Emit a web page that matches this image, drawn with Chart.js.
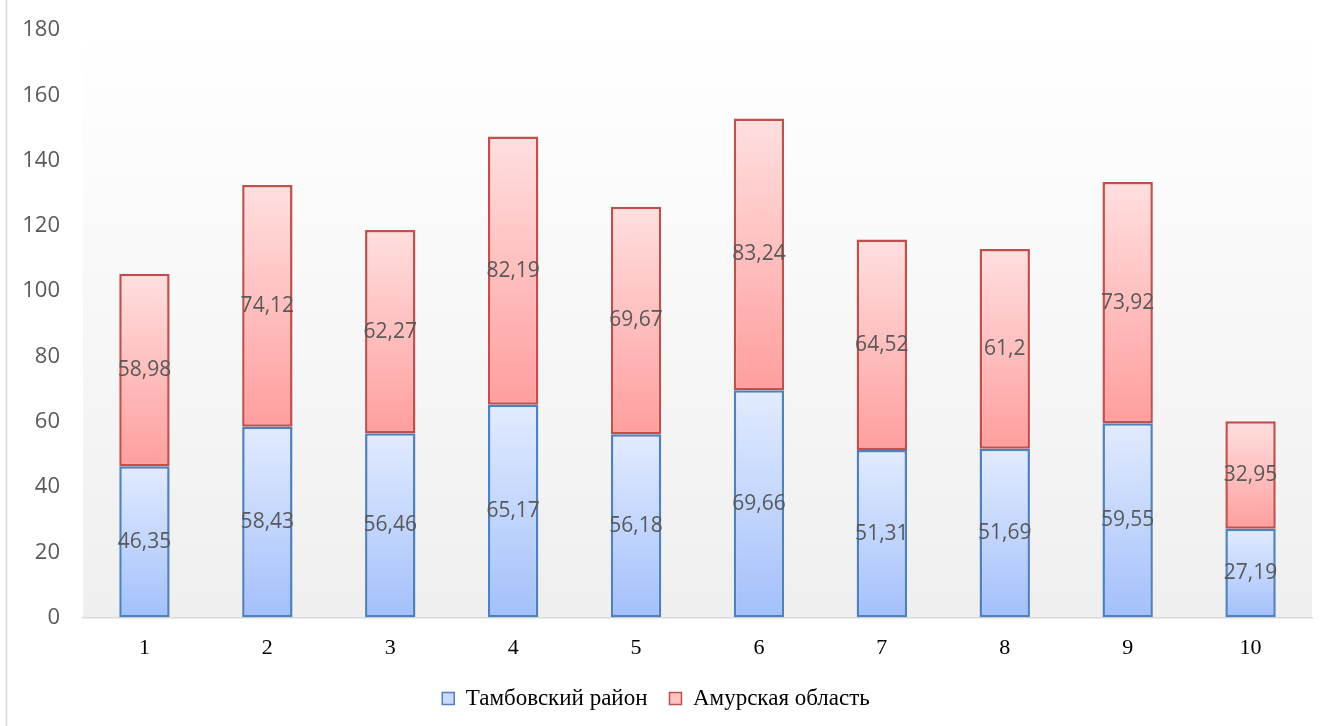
<!DOCTYPE html>
<html>
<head>
<meta charset="utf-8">
<script src="https://cdn.jsdelivr.net/npm/chart.js@4"></script>
<style>
  html, body { margin: 0; padding: 0; background: #fff; }
  #wrap { width: 1331px; height: 726px; }
</style>
</head>
<body>
<div id="wrap"><canvas id="chart" width="1331" height="726"></canvas></div>
<script>
// данные
const categories = ["1", "2", "3", "4", "5", "6", "7", "8", "9", "10"];
const tambov = [46.35, 58.43, 56.46, 65.17, 56.18, 69.66, 51.31, 51.69, 59.55, 27.19];
const amur = [58.98, 74.12, 62.27, 82.19, 69.67, 83.24, 64.52, 61.2, 73.92, 32.95];
const seriesNames = ["Тамбовский район", "Амурская область"];
const yTicks = [0, 20, 40, 60, 80, 100, 120, 140, 160, 180];

// расстояние между элементами легенды и поправки её высоты/положения
const legendGap = 22;
const legendFitCut = 15;
const legendDrawShift = 13;

// градиент для каждого сегмента столбика
function barGradient(ctx, top, bottom, fallback) {
    if (ctx.type !== 'data') return fallback;
    const chart = ctx.chart;
    const y = chart.scales.y;
    if (!y || !chart.chartArea) return fallback;
    const i = ctx.dataIndex;
    const start = ctx.datasetIndex === 0 ? 0 : tambov[i];
    const end = start + (ctx.datasetIndex === 0 ? tambov[i] : amur[i]);
    const y0 = y.getPixelForValue(end);
    const y1 = y.getPixelForValue(start);
    if (!isFinite(y0) || !isFinite(y1) || y0 === y1) return fallback;
    const g = chart.ctx.createLinearGradient(0, y0, 0, y1);
    g.addColorStop(0, top);
    g.addColorStop(1, bottom);
    return g;
}

// фон области построения + рамка слева
const backgroundPlugin = {
    id: 'bg',
    beforeDraw(chart) {
        const { ctx, chartArea: a } = chart;
        ctx.save();
        ctx.fillStyle = '#ffffff';
        ctx.fillRect(0, 0, chart.width, chart.height);
        const g = ctx.createLinearGradient(0, a.top, 0, a.bottom);
        g.addColorStop(0, '#ffffff');
        g.addColorStop(1, '#efefef');
        ctx.fillStyle = g;
        ctx.fillRect(a.left, a.top, a.right - a.left, a.bottom - a.top);
        ctx.strokeStyle = '#d9d9d9';
        ctx.lineWidth = 1.5;
        ctx.beginPath();
        ctx.moveTo(6.5, 0);
        ctx.lineTo(6.5, chart.height);
        ctx.stroke();
        ctx.restore();
    }
};

// легенда: широкий промежуток между элементами, но без лишней высоты
const legendFitPlugin = {
    id: 'legendFit',
    beforeLayout(chart) {
        const l = chart.legend;
        if (l && !l._fitPatched) {
            const fit = l.fit;
            l.fit = function () {
                fit.call(this);
                this.height -= legendFitCut;
            };
            l._fitPatched = true;
        }
    },
    afterLayout(chart) {
        const l = chart.legend;
        if (l) {
            l.top -= legendDrawShift;
        }
    }
};

// подписи значений
const labelsPlugin = {
    id: 'valueLabels',
    afterDatasetsDraw(chart) {
        const ctx = chart.ctx;
        ctx.save();
        ctx.font = '21px "Open Sans"';
        ctx.fillStyle = '#595959';
        ctx.textAlign = 'center';
        ctx.textBaseline = 'middle';
        chart.data.datasets.forEach((ds, di) => {
            const meta = chart.getDatasetMeta(di);
            meta.data.forEach((bar, i) => {
                const text = String(ds.data[i]).replace('.', ',');
                ctx.fillText(text, bar.x, (bar.y + bar.base) / 2);
            });
        });
        ctx.restore();
    }
};

const legendFill = ['#c9dafd', '#ffc4c4'];
const legendStroke = ['#4f81bd', '#c0504d'];

new Chart(document.getElementById('chart'), {
    type: 'bar',
    data: {
        labels: categories,
        datasets: [
            {
                label: seriesNames[0],
                data: tambov,
                backgroundColor: (c) => barGradient(c, '#e2ebfe', '#a3c0fb', '#c9dafd'),
                borderColor: '#4f81bd',
                borderWidth: 2.5,
                borderSkipped: false,
                barPercentage: 0.41,
                categoryPercentage: 1
            },
            {
                label: seriesNames[1],
                data: amur,
                backgroundColor: (c) => barGradient(c, '#ffdfdf', '#ff9e9e', '#ffc4c4'),
                borderColor: '#c0504d',
                borderWidth: 2.5,
                borderSkipped: false,
                barPercentage: 0.41,
                categoryPercentage: 1
            }
        ]
    },
    options: {
        responsive: false,
        animation: false,
        layout: { padding: { left: 0, right: 19, top: 30, bottom: 8 } },
        scales: {
            x: {
                stacked: true,
                grid: { display: false, drawTicks: false },
                border: { display: true, color: '#d9d9d9', width: 1.5 },
                ticks: {
                    color: '#000000',
                    font: { family: '"Liberation Serif"', size: 22 },
                    padding: 17
                }
            },
            y: {
                stacked: true,
                min: 0,
                max: 180,
                grid: { display: false, drawTicks: false },
                border: { display: false },
                afterBuildTicks(scale) {
                    scale.ticks = yTicks.map(v => ({ value: v }));
                },
                afterFit(scale) {
                    scale.width = 83;
                    scale.paddingTop = 0;
                    scale.paddingBottom = 0;
                },
                ticks: {
                    color: '#595959',
                    font: { family: '"Open Sans"', size: 22 },
                    padding: 23
                }
            }
        },
        plugins: {
            tooltip: { enabled: false },
            legend: {
                position: 'bottom',
                labels: {
                    color: '#000000',
                    font: { family: '"Liberation Serif"', size: 23 },
                    boxWidth: 12,
                    boxHeight: 12,
                    padding: legendGap,
                    generateLabels(chart) {
                        return chart.data.datasets.map((ds, i) => ({
                            text: ds.label,
                            fillStyle: legendFill[i],
                            strokeStyle: legendStroke[i],
                            lineWidth: 1.5,
                            datasetIndex: i,
                            hidden: false
                        }));
                    }
                }
            }
        }
    },
    plugins: [backgroundPlugin, legendFitPlugin, labelsPlugin]
});
</script>
</body>
</html>
